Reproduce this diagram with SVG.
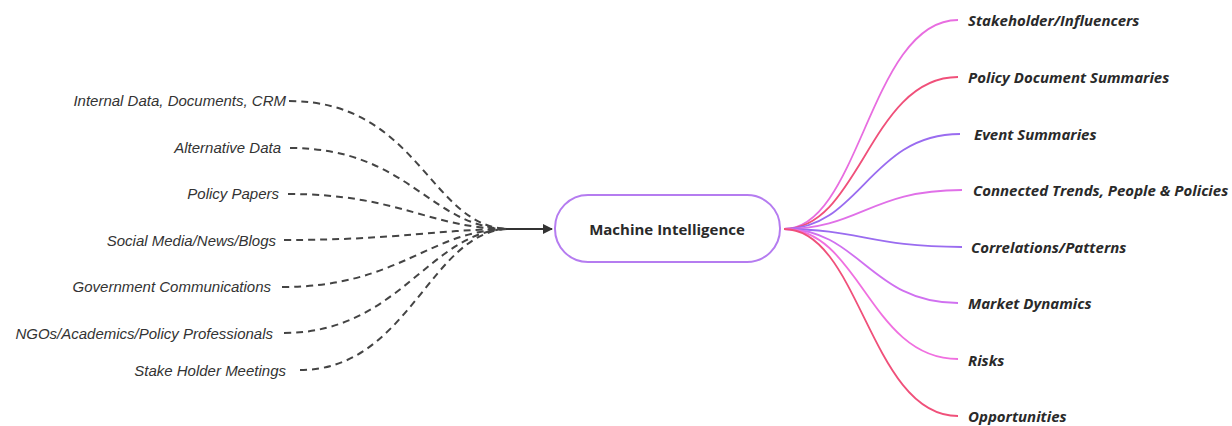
<svg xmlns="http://www.w3.org/2000/svg" width="1232" height="426" viewBox="0 0 1232 426">
<defs>
<style>
.src{font-family:"Liberation Sans",Arial,sans-serif;font-size:15px;font-style:italic;fill:#333;text-anchor:end}
.out{font-family:"Open Sans","Noto Sans",sans-serif;font-size:15px;font-style:italic;font-weight:bold;fill:#2a2a2a}
.dash{fill:none;stroke:#444;stroke-width:2;stroke-dasharray:7,5}
.br{fill:none;stroke-width:1.8}
</style>
<marker id="ah" viewBox="0 0 10 10" refX="9" refY="5" markerWidth="10" markerHeight="10" orient="auto" markerUnits="userSpaceOnUse"><path d="M0,0 L10,5 L0,10 z" fill="#333"/></marker>
</defs>
<rect width="1232" height="426" fill="#fff"/>
<g id="connectors">
<path class="dash" d="M289,101 C420,101 430,229 510,229"/>
<path class="dash" d="M290,148 C410,148 430,229 510,229"/>
<path class="dash" d="M288,194 C400,194 430,229 510,229"/>
<path class="dash" d="M284,240 C400,240 440,229 510,229"/>
<path class="dash" d="M282,287 C400,287 430,229 510,229"/>
<path class="dash" d="M284,333 C400,333 430,229 510,229"/>
<path class="dash" d="M300,370 C410,370 430,229 510,229"/>
<line x1="506" y1="229" x2="552" y2="229" stroke="#333" stroke-width="2" marker-end="url(#ah)"/>
<path class="br" stroke="#e86de0" d="M784,229 C860,229 870,20 958,20"/>
<path class="br" stroke="#f0507a" d="M784,229 C860,229 870,77 958,77"/>
<path class="br" stroke="#9a6cf0" d="M784,229 C860,229 870,134 960,134"/>
<path class="br" stroke="#e070e8" d="M784,229 C860,229 870,190 962,190"/>
<path class="br" stroke="#9a6cf0" d="M784,229 C860,229 870,247 962,247"/>
<path class="br" stroke="#d070f0" d="M784,229 C860,229 870,303 958,303"/>
<path class="br" stroke="#f070e0" d="M784,229 C860,229 870,359 958,359"/>
<path class="br" stroke="#f0507a" d="M784,229 C860,229 870,416 958,416"/>
</g>
<g id="src-internal"><text class="src" x="286" y="106">Internal Data, Documents, CRM</text></g>
<g id="src-alt"><text class="src" x="281" y="153">Alternative Data</text></g>
<g id="src-policy"><text class="src" x="279" y="199">Policy Papers</text></g>
<g id="src-social"><text class="src" x="276" y="246">Social Media/News/Blogs</text></g>
<g id="src-gov"><text class="src" x="271" y="292">Government Communications</text></g>
<g id="src-ngo"><text class="src" x="273" y="339">NGOs/Academics/Policy Professionals</text></g>
<g id="src-stake"><text class="src" x="286" y="376">Stake Holder Meetings</text></g>
<g id="center">
<rect x="555" y="195" width="225" height="67" rx="33" ry="33" fill="#fff" stroke="#b57cf0" stroke-width="2"/>
<text x="667" y="235" text-anchor="middle" font-family="'Open Sans','Noto Sans',sans-serif" font-size="15" font-weight="bold" fill="#2a2a2a">Machine Intelligence</text>
</g>
<g id="out-stake"><text class="out" x="968" y="26">Stakeholder/Influencers</text></g>
<g id="out-policy"><text class="out" x="968" y="83">Policy Document Summaries</text></g>
<g id="out-event"><text class="out" x="974" y="140">Event Summaries</text></g>
<g id="out-trends"><text class="out" x="973" y="196">Connected Trends, People &amp; Policies</text></g>
<g id="out-corr"><text class="out" x="971" y="253">Correlations/Patterns</text></g>
<g id="out-market"><text class="out" x="968" y="309">Market Dynamics</text></g>
<g id="out-risks"><text class="out" x="968" y="366">Risks</text></g>
<g id="out-opp"><text class="out" x="968" y="422">Opportunities</text></g>
</svg>
